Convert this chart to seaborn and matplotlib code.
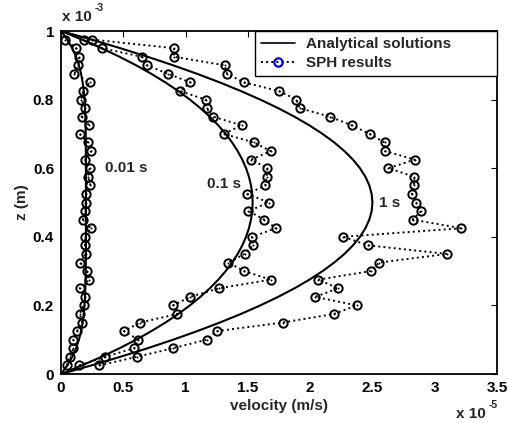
import numpy as np
import pandas as pd
import matplotlib
matplotlib.use("Agg")
import matplotlib.pyplot as plt
import seaborn as sns
from matplotlib.lines import Line2D

# ---------------- data (velocity in 1e-5 m/s, z in 1e-3 m) ----------------
z_grid = [0.0, 0.025, 0.05, 0.075, 0.1, 0.125, 0.15, 0.175, 0.2, 0.225, 0.25,
          0.275, 0.3, 0.325, 0.35, 0.375, 0.4, 0.425, 0.45, 0.475, 0.5,
          0.525, 0.55, 0.575, 0.6, 0.625, 0.65, 0.675, 0.7, 0.725, 0.75,
          0.775, 0.8, 0.825, 0.85, 0.875, 0.9, 0.925, 0.95, 0.975, 1.0]

ana_001 = [0, 0.0505, 0.0902, 0.1208, 0.1440, 0.1612, 0.1737, 0.1825, 0.1886, 0.1928,
           0.1955, 0.1972, 0.1984, 0.1991, 0.1995, 0.1998, 0.1999, 0.2, 0.2, 0.2, 0.2,
           0.2, 0.2, 0.2, 0.1999, 0.1998, 0.1995, 0.1991, 0.1984, 0.1972, 0.1955,
           0.1928, 0.1886, 0.1825, 0.1737, 0.1612, 0.1440, 0.1208, 0.0902, 0.0505, 0]
ana_01 = [0, 0.1683, 0.3246, 0.4693, 0.6029, 0.7258, 0.8384, 0.9413, 1.0348, 1.1192,
          1.1950, 1.2625, 1.3220, 1.3739, 1.4182, 1.4554, 1.4855, 1.5087, 1.5252, 1.5351,
          1.5384, 1.5351, 1.5252, 1.5087, 1.4855, 1.4554, 1.4182, 1.3739, 1.3220, 1.2625,
          1.1950, 1.1192, 1.0348, 0.9413, 0.8384, 0.7258, 0.6029, 0.4693, 0.3246, 0.1683, 0]
ana_1 = [0, 0.24375, 0.475, 0.69375, 0.9, 1.09375, 1.275, 1.44375, 1.6, 1.74375,
         1.875, 1.99375, 2.1, 2.19375, 2.275, 2.34375, 2.4, 2.44375, 2.475, 2.49375,
         2.5, 2.49375, 2.475, 2.44375, 2.4, 2.34375, 2.275, 2.19375, 2.1, 1.99375,
         1.875, 1.74375, 1.6, 1.44375, 1.275, 1.09375, 0.9, 0.69375, 0.475, 0.24375, 0]

z_sph = [0.025, 0.05, 0.075, 0.1, 0.125, 0.15, 0.175, 0.2, 0.225, 0.25,
         0.275, 0.3, 0.325, 0.35, 0.375, 0.4, 0.425, 0.45, 0.475, 0.5,
         0.525, 0.55, 0.575, 0.6, 0.625, 0.65, 0.675, 0.7, 0.725, 0.75,
         0.775, 0.8, 0.825, 0.85, 0.875, 0.9, 0.925, 0.95, 0.975]

sph_001 = [0.047, 0.07, 0.10, 0.10, 0.128, 0.171, 0.15, 0.182, 0.193, 0.15,
           0.225, 0.209, 0.155, 0.198, 0.193, 0.193, 0.24, 0.176, 0.194, 0.199,
           0.20, 0.236, 0.218, 0.229, 0.195, 0.243, 0.215, 0.149, 0.226, 0.165,
           0.196, 0.162, 0.178, 0.229, 0.108, 0.14, 0.148, 0.121, 0.032]
sph_01 = [0.147, 0.353, 0.588, 0.62, 0.506, 0.634, 0.935, 0.90, 1.038, 1.271,
          1.685, 1.47, 1.343, 1.474, 1.539, 1.533, 1.726, 1.632, 1.505, 1.667,
          1.497, 1.64, 1.651, 1.656, 1.527, 1.683, 1.549, 1.305, 1.45, 1.223,
          1.169, 1.161, 0.955, 1.038, 0.861, 0.688, 0.647, 0.327, 0.185]
sph_1 = [0.307, 0.607, 0.897, 1.169, 1.25, 1.779, 2.191, 2.373, 2.041, 2.226,
         2.063, 2.485, 2.555, 3.10, 2.467, 2.266, 3.215, 2.823, 2.89, 2.852,
         2.817, 2.833, 2.837, 2.628, 2.84, 2.60, 2.597, 2.477, 2.333, 2.161,
         1.915, 1.89, 1.75, 1.47, 1.333, 1.313, 0.907, 0.907, 0.249]

times = ["0.01 s", "0.1 s", "1 s"]
x_ticks = [0, 0.5, 1, 1.5, 2, 2.5, 3, 3.5]
y_ticks = [0, 0.2, 0.4, 0.6, 0.8, 1]
x_tick_labels = ["0", "0.5", "1", "1.5", "2", "2.5", "3", "3.5"]
y_tick_labels = ["0", "0.2", "0.4", "0.6", "0.8", "1"]

ana = pd.concat([pd.DataFrame({"z": z_grid, "u": v, "t": t})
                 for t, v in zip(times, [ana_001, ana_01, ana_1])], ignore_index=True)
sph = pd.concat([pd.DataFrame({"z": z_sph, "u": v, "t": t})
                 for t, v in zip(times, [sph_001, sph_01, sph_1])], ignore_index=True)

# ---------------- style ----------------
sns.set_theme(style="white")
plt.rcParams["font.family"] = ["Liberation Sans", "DejaVu Sans"]
plt.rcParams["font.weight"] = "bold"
plt.rcParams["xtick.direction"] = "in"
plt.rcParams["ytick.direction"] = "in"

FS = 11

fig = plt.figure(figsize=(5.08, 4.23), dpi=100)
ax = fig.add_axes([61 / 508, 1 - 374 / 423, 436 / 508, 343 / 423])

sns.lineplot(data=ana, x="u", y="z", units="t", estimator=None, sort=False,
             color="black", lw=1.5, legend=False, ax=ax)
sns.lineplot(data=sph, x="u", y="z", units="t", estimator=None, sort=False,
             color="black", lw=1.4, linestyle=":", marker="o", markersize=6,
             markerfacecolor="none", markeredgecolor="black", markeredgewidth=1.4,
             legend=False, ax=ax)
sns.scatterplot(data=sph, x="u", y="z", marker="o", s=2, color="black",
                linewidth=0, legend=False, ax=ax, zorder=5)

ax.set_xlim(0, 3.5)
ax.set_ylim(0, 1)
ax.set_xticks(x_ticks)
ax.set_xticklabels(x_tick_labels)
ax.set_yticks(y_ticks)
ax.set_yticklabels(y_tick_labels)
ax.tick_params(axis="both", which="both", direction="in", length=4, width=0.8,
               top=True, right=True, labelsize=FS, pad=5, colors="black")
for lab in ax.get_xticklabels() + ax.get_yticklabels():
    lab.set_fontweight("bold")
for sp in ax.spines.values():
    sp.set_visible(True)
    sp.set_color("black")
    sp.set_linewidth(1.3)

ax.set_xlabel("velocity (m/s)", fontsize=FS, fontweight="bold", labelpad=3)
ax.set_ylabel("z (m)", fontsize=FS, fontweight="bold", labelpad=3)

# exponent labels
fig.text(62 / 508, 1 - 21 / 423, "x 10", fontsize=FS, fontweight="bold", ha="left", va="baseline")
fig.text(95 / 508, 1 - 11 / 423, "-3", fontsize=7.5, fontweight="bold", ha="left", va="baseline")
fig.text(456 / 508, 1 - 418 / 423, "x 10", fontsize=FS, fontweight="bold", ha="left", va="baseline")
fig.text(489 / 508, 1 - 408 / 423, "-5", fontsize=7.5, fontweight="bold", ha="left", va="baseline")

# curve annotations
ax.text(0.35, 0.60, times[0], fontsize=FS, fontweight="bold", ha="left", va="center")
ax.text(1.17, 0.553, times[1], fontsize=FS, fontweight="bold", ha="left", va="center")
ax.text(2.55, 0.50, times[2], fontsize=FS, fontweight="bold", ha="left", va="center")

handles = [Line2D([], [], color="black", lw=1.2),
           Line2D([], [], color="black", lw=1.4, ls=":", marker="o", mfc="none",
                  mec="blue", mew=1.6, ms=6)]
leg = ax.legend(handles, ["Analytical solutions", "SPH results"], loc="upper left",
                bbox_to_anchor=(0.445, 0, 0.555, 1), mode="expand", borderaxespad=0,
                fancybox=False, framealpha=1, edgecolor="black", numpoints=1,
                handlelength=2.2, handletextpad=0.7, labelspacing=0.3, borderpad=0.42,
                prop={"weight": "bold", "size": FS})
leg.get_frame().set_linewidth(1.0)

fig.savefig("out.png", dpi=100)
